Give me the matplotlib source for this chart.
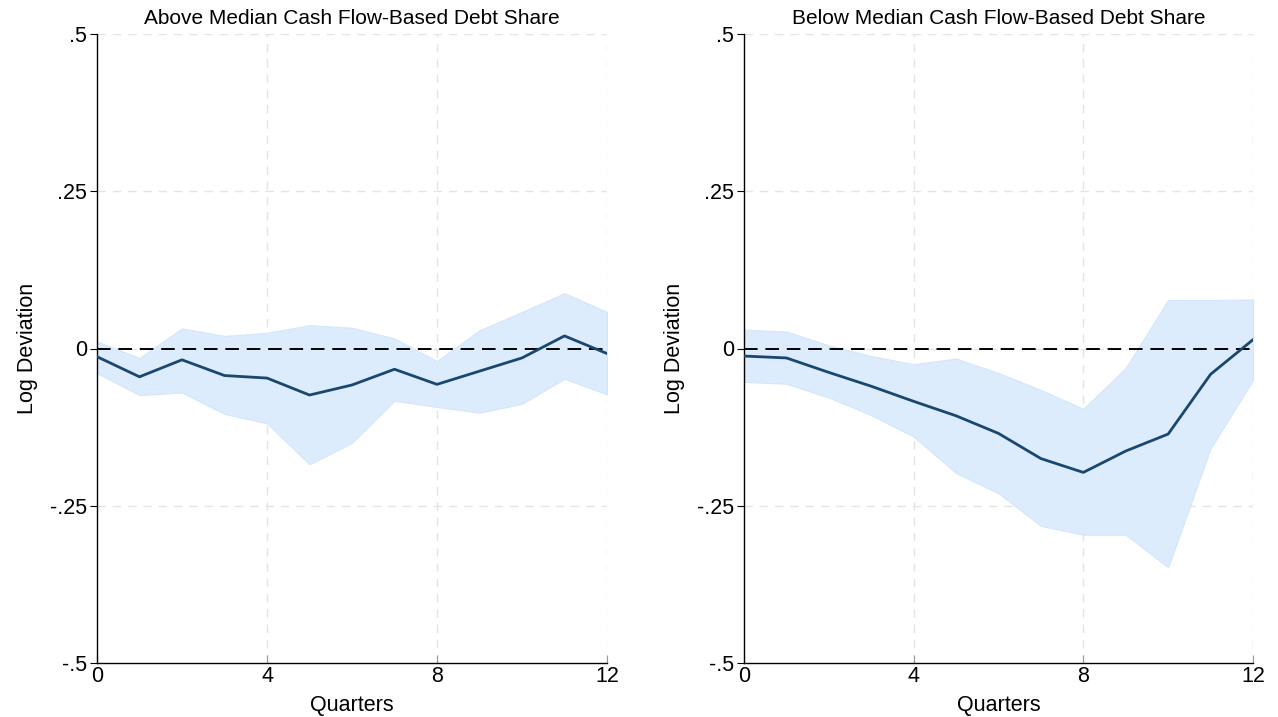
import numpy as np
from matplotlib import pyplot as plt

plt.rcParams['font.family'] = ['Liberation Sans', 'DejaVu Sans']

quarters = list(range(13))

# 上方: 中位数以上
above_irf = [-0.013, -0.045, -0.018, -0.043, -0.047, -0.074, -0.058, -0.033, -0.057, -0.036, -0.015, 0.020, -0.008]
above_hi = [0.011, -0.015, 0.032, 0.020, 0.025, 0.037, 0.033, 0.016, -0.020, 0.029, 0.058, 0.088, 0.058]
above_lo = [-0.039, -0.074, -0.070, -0.104, -0.119, -0.184, -0.150, -0.083, -0.093, -0.102, -0.088, -0.048, -0.073]

# 中位数以下
below_irf = [-0.012, -0.015, -0.038, -0.060, -0.084, -0.107, -0.135, -0.175, -0.197, -0.163, -0.136, -0.041, 0.014]
below_hi = [0.030, 0.027, 0.005, -0.012, -0.025, -0.016, -0.039, -0.066, -0.096, -0.031, 0.077, 0.077, 0.078]
below_lo = [-0.053, -0.056, -0.078, -0.106, -0.140, -0.198, -0.230, -0.282, -0.296, -0.296, -0.348, -0.159, -0.050]

titles = ["Above Median Cash Flow-Based Debt Share", "Below Median Cash Flow-Based Debt Share"]
yticks = [-0.5, -0.25, 0, 0.25, 0.5]
ytick_labels = ["-.5", "-.25", "0", ".25", ".5"]
xticks = [0, 4, 8, 12]

fig = plt.figure(figsize=(12.78, 7.17), dpi=100)
ax1 = fig.add_axes([97 / 1278, 54 / 717, 510 / 1278, 629 / 717])
ax2 = fig.add_axes([744 / 1278, 54 / 717, 509 / 1278, 629 / 717])

panels = [(ax1, above_irf, above_hi, above_lo, titles[0]),
          (ax2, below_irf, below_hi, below_lo, titles[1])]

for ax, irf, hi, lo, title in panels:
    ax.fill_between(quarters, lo, hi, color="#dcecfc", linewidth=0.8, edgecolor="#d3e6fb", zorder=2)
    ax.plot(quarters, irf, color="#1a476f", linewidth=2, zorder=4)
    ax.axhline(0, color="black", linestyle=(0, (7, 4)), linewidth=1.4, zorder=3)

    # 网格线
    for y in [-0.25, 0, 0.25, 0.5]:
        ax.axhline(y, color="#e4e4e4", linestyle=(0, (6, 5)), linewidth=1, zorder=1)
    for x in [4, 8, 12]:
        ax.axvline(x, color="#e4e4e4", linestyle=(0, (6, 5)), linewidth=1, zorder=1)

    ax.set_xlim(0, 12)
    ax.set_ylim(-0.5, 0.5)
    ax.set_xticks(xticks)
    ax.set_xticklabels([str(x) for x in xticks])
    ax.set_yticks(yticks)
    ax.set_yticklabels(ytick_labels)
    ax.tick_params(axis="y", direction="out", length=5, labelsize=15.5, pad=2)
    ax.tick_params(axis="x", direction="in", length=6, labelsize=15.5, pad=2, color="#999999")

    for side in ["top", "right"]:
        ax.spines[side].set_visible(False)
    ax.spines["left"].set_linewidth(1)
    ax.spines["bottom"].set_linewidth(1)

    ax.set_title(title, fontsize=15, pad=7)
    ax.set_xlabel("Quarters", fontsize=15.5, labelpad=6)
    ax.set_ylabel("Log Deviation", fontsize=15.5, labelpad=9)

plt.savefig("out.png", dpi=100)
plt.close()
